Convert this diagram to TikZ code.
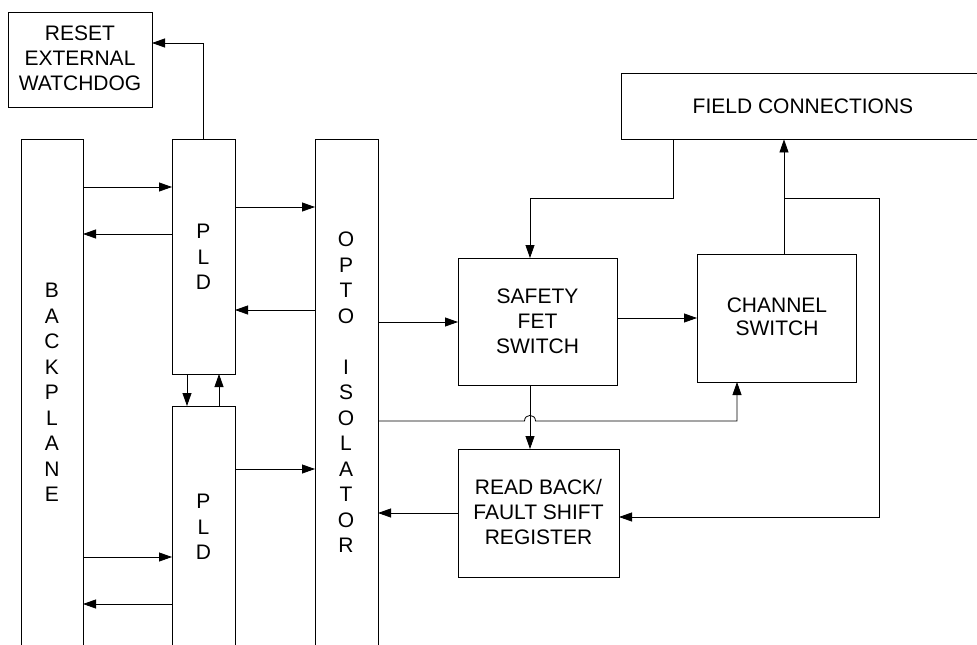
\documentclass[tikz,border=0pt]{standalone}
\usepackage{fontspec}
\setmainfont{Liberation Sans}
\usetikzlibrary{arrows.meta}
\begin{document}
\begin{tikzpicture}[x=1pt,y=-1pt,
  line width=0.8pt,
  box/.style={draw, rectangle, inner sep=0pt, outer sep=0pt},
  txt/.style={align=center, inner sep=0pt, font=\fontsize{21}{25}\selectfont},
  vtxt/.style={align=center, inner sep=0pt, font=\fontsize{21}{25.5}\selectfont},
  arr/.style={-{Triangle[length=13pt,width=9pt]}}]
\useasboundingbox (0,0) rectangle (977,645);
% boxes
\node[box, minimum width=144pt, minimum height=95pt] (reset) at (80,59.5) {};
\node[txt] (resett) at (80,58) {RESET\\EXTERNAL\\WATCHDOG};
\node[box, minimum width=62pt, minimum height=531pt] (backplane) at (52,404.5) {};
\node[vtxt] (backt) at (52,392.5) {B\\A\\C\\K\\P\\L\\A\\N\\E};
\node[box, minimum width=63pt, minimum height=235pt] (pld1) at (203.5,256.5) {};
\node[vtxt] (pld1t) at (203.5,257) {P\\L\\D};
\node[box, minimum width=63pt, minimum height=264pt] (pld2) at (203.5,538) {};
\node[vtxt] (pld2t) at (203.5,527) {P\\L\\D};
\node[box, minimum width=63pt, minimum height=531pt] (opto) at (346.5,404.5) {};
\node[vtxt] (optot) at (346,392.5) {O\\P\\T\\O\\ \\I\\S\\O\\L\\A\\T\\O\\R};
\node[box, minimum width=159pt, minimum height=127pt] (safety) at (537.5,321.5) {};
\node[txt] (safetyt) at (537.5,321) {SAFETY\\FET\\SWITCH};
\node[box, minimum width=159pt, minimum height=128pt] (channel) at (776.5,318) {};
\node[txt, font=\fontsize{21}{23}\selectfont] (channelt) at (777,316.5) {CHANNEL\\SWITCH};
\node[box, minimum width=161pt, minimum height=128pt] (readback) at (538.5,513) {};
\node[txt] (readbackt) at (538.5,512) {READ BACK/\\FAULT SHIFT\\REGISTER};
\node[inner sep=0pt, minimum width=368pt, minimum height=65pt] (field) at (806,106.5) {};
\draw (field.south east) -- (field.south west) -- (field.north west) -- (field.north east);
\node[txt] (fieldt) at (803,106) {FIELD CONNECTIONS};
% connectors
\draw[arr] (pld1.north -| 203,0) |- (reset.east |- 0,43);
\draw[arr] (backplane.east |- 0,187) -- (pld1.west |- 0,187);
\draw[arr] (pld1.west |- 0,234) -- (backplane.east |- 0,234);
\draw[arr] (pld1.east |- 0,207) -- (opto.west |- 0,207);
\draw[arr] (opto.west |- 0,310) -- (pld1.east |- 0,310);
\draw[arr] (pld1.south -| 187,0) -- (pld2.north -| 187,0);
\draw[arr] (pld2.north -| 219,0) -- (pld1.south -| 219,0);
\draw[arr] (pld2.east |- 0,469) -- (opto.west |- 0,469);
\draw[arr] (backplane.east |- 0,557) -- (pld2.west |- 0,557);
\draw[arr] (pld2.west |- 0,604) -- (backplane.east |- 0,604);
\draw[arr] (opto.east |- 0,322) -- (safety.west |- 0,322);
\draw[arr] (safety.east |- 0,318) -- (channel.west |- 0,318);
\draw[arr] (field.south -| 673,0) |- (530,198) -- (safety.north -| 530,0);
\draw[arr] (channel.north -| 784,0) -- (field.south -| 784,0);
\coordinate (j) at (784,198);
\draw[arr] (j) -| (879,517) -- (readback.east |- 0,517);
\draw[arr] (safety.south -| 530,0) -- (readback.north -| 530,0);
\draw[arr] (opto.east |- 0,421) -- (524.5,421) .. controls (524.5,413.5) and (535.5,413.5) .. (535.5,421) -| (channel.south -| 737,0);
\draw[arr] (readback.west |- 0,513) -- (opto.east |- 0,513);
\end{tikzpicture}
\end{document}
